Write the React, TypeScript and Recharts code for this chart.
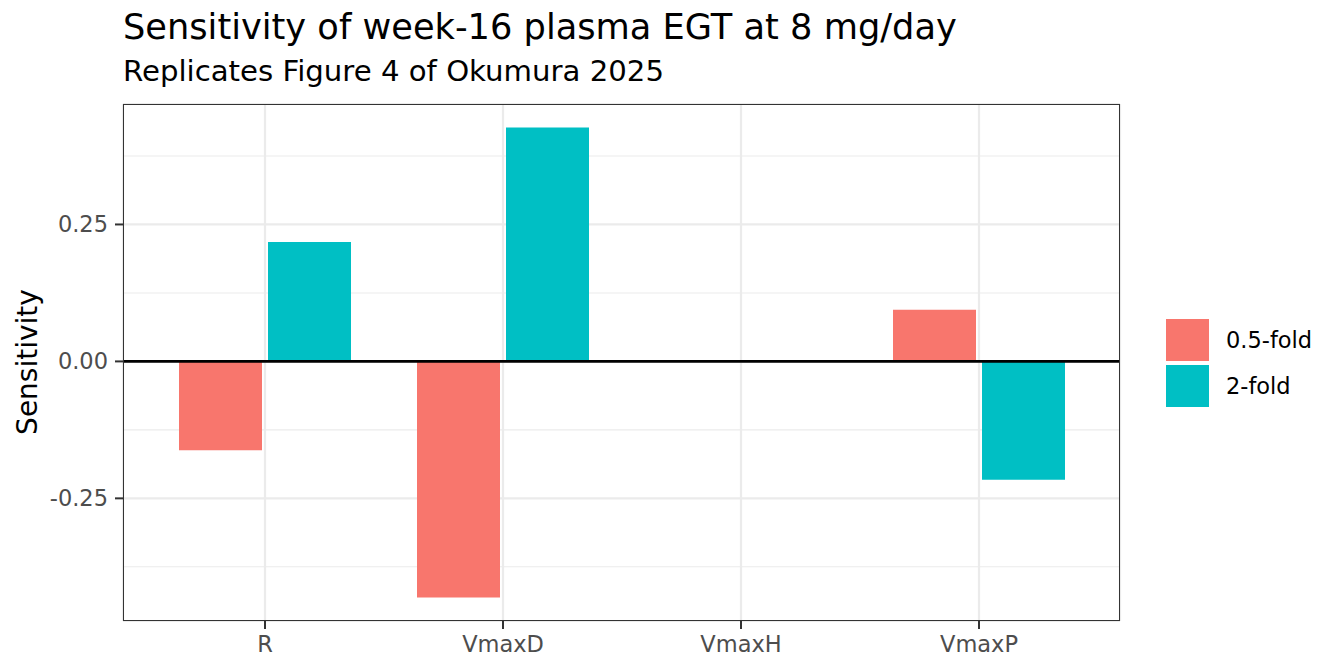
import React from 'react';
import {
  BarChart,
  Bar,
  XAxis,
  YAxis,
  CartesianGrid,
  ReferenceLine,
} from 'recharts';

const PARAMS = ['R', 'VmaxD', 'VmaxH', 'VmaxP'];
const HALF_FOLD = [-0.162, -0.431, 0, 0.0945];
const TWO_FOLD = [0.218, 0.427, 0, -0.216];
const SERIES = [
  { key: 'half', name: '0.5-fold', color: '#F8766D' },
  { key: 'double', name: '2-fold', color: '#00BFC4' },
];
const MAJOR_TICKS = [-0.25, 0, 0.25];
const MINOR_TICKS = [-0.375, -0.125, 0.125, 0.375];

const data = PARAMS.map((param, i) => ({
  param,
  half: HALF_FOLD[i],
  double: TWO_FOLD[i],
}));

// ggplot-style 5% expansion of the data range
const allValues = [...HALF_FOLD, ...TWO_FOLD];
const lo = Math.min(...allValues);
const hi = Math.max(...allValues);
const pad = (hi - lo) * 0.05;
const Y_DOMAIN: [number, number] = [lo - pad, hi + pad];

const FONT = '"DejaVu Sans", Verdana, sans-serif';

// panel box
const P_LEFT = 123;
const P_TOP = 104;
const P_RIGHT = 1120;
const P_BOTTOM = 621;
const W = 1344;
const H = 672;

export default function App() {
  return (
    <div
      style={{
        position: 'absolute',
        left: 0,
        top: 0,
        width: W,
        height: H,
        background: '#fff',
        fontFamily: FONT,
      }}
    >
      <div style={{ position: 'absolute', left: 123, top: 7, fontSize: 35.2, lineHeight: '40px', color: '#000', whiteSpace: 'nowrap' }}>
        Sensitivity of week-16 plasma EGT at 8 mg/day
      </div>
      <div style={{ position: 'absolute', left: 123, top: 54, fontSize: 29.2, lineHeight: '34px', color: '#000', whiteSpace: 'nowrap' }}>
        Replicates Figure 4 of Okumura 2025
      </div>
      <div
        style={{
          position: 'absolute',
          left: 27,
          top: 362,
          fontSize: 28,
          color: '#000',
          whiteSpace: 'nowrap',
          transform: 'translate(-50%, -50%) rotate(-90deg)',
        }}
      >
        Sensitivity
      </div>

      <BarChart
        width={W}
        height={H}
        data={data}
        margin={{ top: P_TOP, right: W - P_RIGHT, bottom: 0, left: 0 }}
        barCategoryGap={33}
        barGap={6}
      >
        <CartesianGrid yAxisId="minor" vertical={false} stroke="#EBEBEB" strokeWidth={1.1} />
        <CartesianGrid yAxisId="major" stroke="#EBEBEB" strokeWidth={2.2} />
        <XAxis
          dataKey="param"
          height={H - P_BOTTOM}
          padding={{ left: 23, right: 22 }}
          axisLine={false}
          tickLine={{ stroke: '#333333', strokeWidth: 2 }}
          tickSize={8}
          tickMargin={7}
          tick={{ fill: '#4D4D4D', fontSize: 22.5, fontFamily: FONT }}
        />
        <YAxis
          yAxisId="major"
          width={P_LEFT}
          type="number"
          domain={Y_DOMAIN}
          ticks={MAJOR_TICKS}
          allowDataOverflow
          axisLine={false}
          tickLine={{ stroke: '#333333', strokeWidth: 2 }}
          tickSize={8}
          tickMargin={7}
          tickFormatter={(v: number) => v.toFixed(2)}
          tick={{ fill: '#4D4D4D', fontSize: 22.5, fontFamily: FONT }}
        />
        <YAxis
          yAxisId="minor"
          hide
          type="number"
          domain={Y_DOMAIN}
          ticks={MINOR_TICKS}
          allowDataOverflow
        />
        {SERIES.map((s) => (
          <Bar
            key={s.key}
            yAxisId="major"
            dataKey={s.key}
            name={s.name}
            fill={s.color}
            isAnimationActive={false}
          />
        ))}
        <ReferenceLine yAxisId="major" y={0} stroke="#000" strokeWidth={2.6} />
      </BarChart>

      <div
        style={{
          position: 'absolute',
          left: P_LEFT,
          top: P_TOP,
          width: P_RIGHT - P_LEFT,
          height: P_BOTTOM - P_TOP,
          boxSizing: 'border-box',
          border: '1.5px solid #333333',
          pointerEvents: 'none',
        }}
      />

      <div style={{ position: 'absolute', left: 1166, top: 319 }}>
        {SERIES.map((s) => (
          <div key={s.key} style={{ display: 'flex', alignItems: 'center', height: 42, marginBottom: 4 }}>
            <div style={{ width: 43, height: 42, background: s.color }} />
            <span style={{ marginLeft: 17, fontSize: 22.5, color: '#000' }}>{s.name}</span>
          </div>
        ))}
      </div>
    </div>
  );
}
